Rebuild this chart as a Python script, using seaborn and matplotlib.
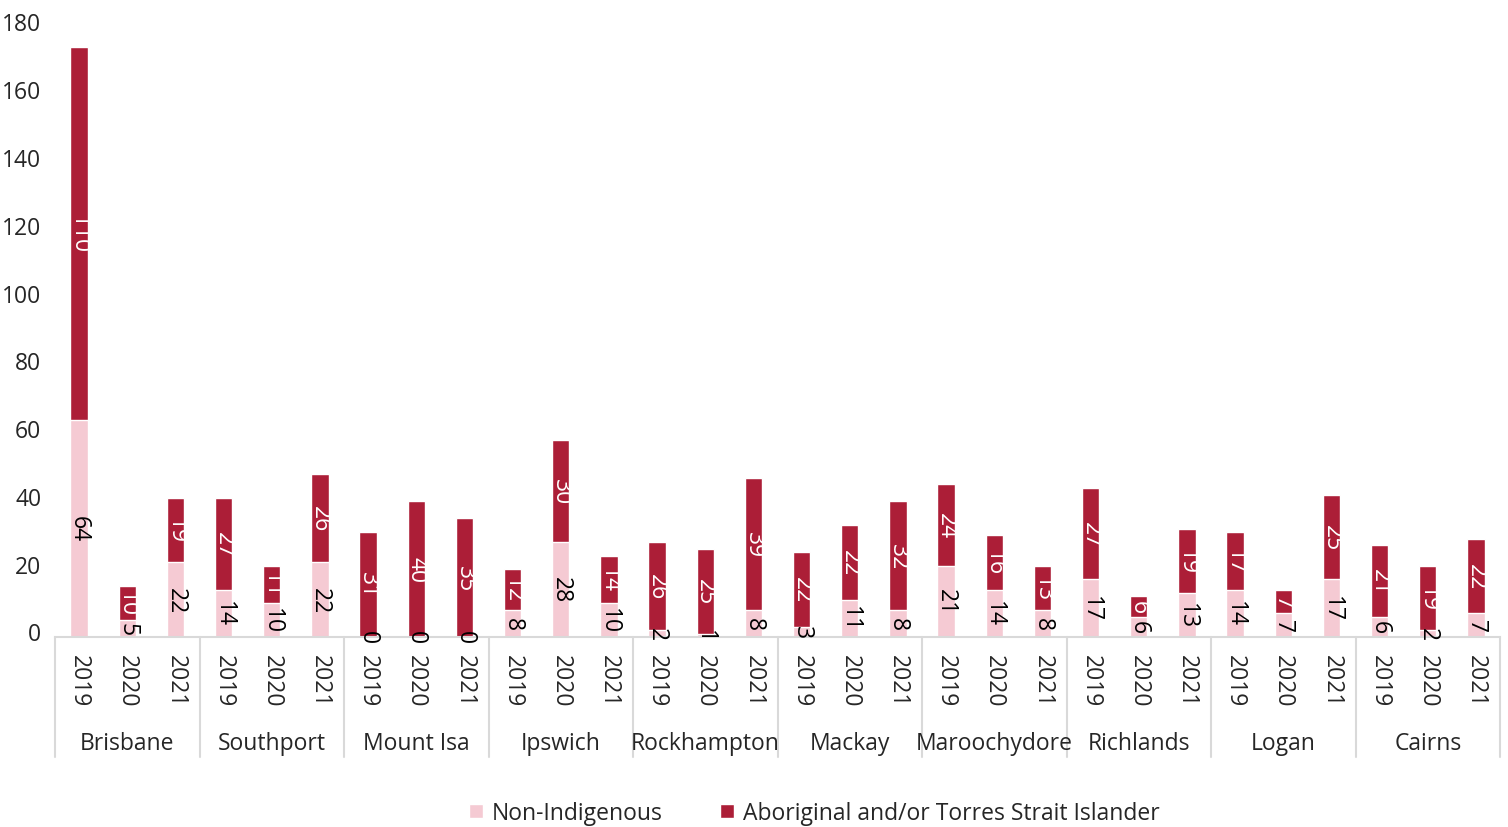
import pandas as pd
import matplotlib.pyplot as plt
import matplotlib.transforms as mtransforms
import seaborn as sns

# Data
courts = ["Brisbane", "Southport", "Mount Isa", "Ipswich", "Rockhampton",
          "Mackay", "Maroochydore", "Richlands", "Logan", "Cairns"]
years = ["2019", "2020", "2021"]
non_indigenous = [64, 5, 22, 14, 10, 22, 0, 0, 0, 8, 28, 10, 2, 1, 8,
                  3, 11, 8, 21, 14, 8, 17, 6, 13, 14, 7, 17, 6, 2, 7]
aboriginal = [110, 10, 19, 27, 11, 26, 31, 40, 35, 12, 30, 14, 26, 25, 39,
              22, 22, 32, 24, 16, 13, 27, 6, 19, 17, 7, 25, 21, 19, 22]
y_ticks = [0, 20, 40, 60, 80, 100, 120, 140, 160, 180]

PINK = "#F5CAD3"
RED = "#AC1E37"
GRID = "#D9D9D9"

df = pd.DataFrame({
    "court": [c for c in courts for _ in years],
    "year": years * len(courts),
    "ni": non_indigenous,
    "ab": aboriginal,
})
df["key"] = df["court"] + " " + df["year"]
df["total"] = df["ni"] + df["ab"]

sns.set_style("white")
plt.rcParams["font.family"] = ["Open Sans", "DejaVu Sans"]

fig = plt.figure(figsize=(15.08, 8.28), dpi=100)
ax = fig.add_axes([0.0365, 0.2295, 0.9582, 0.7367])

# stacked bars: total (red) with non-indigenous (pink) drawn over it
sns.barplot(data=df, x="key", y="total", color=RED, saturation=1,
            width=0.36, ax=ax, label="Aboriginal and/or Torres Strait Islander")
sns.barplot(data=df, x="key", y="ni", color=PINK, saturation=1,
            width=0.36, ax=ax, label="Non-Indigenous")
if ax.get_legend() is not None:
    ax.get_legend().remove()

ax.set_ylim(0, 180)
ax.set_xlim(-0.5, len(df) - 0.5)
ax.set_yticks(y_ticks)
ax.tick_params(axis="y", length=0, pad=10, labelsize=16.5)
# Excel-style labels sit a few pixels above their gridline value
shift = mtransforms.ScaledTranslation(0, 4 / 72, fig.dpi_scale_trans)
for lbl in ax.get_yticklabels():
    lbl.set_transform(lbl.get_transform() + shift)
ax.set_xticks([])
ax.set_xlabel("")
ax.set_ylabel("")
for s in ["left", "right", "top"]:
    ax.spines[s].set_visible(False)
ax.spines["bottom"].set_color(GRID)
ax.spines["bottom"].set_linewidth(1.5)

# value labels inside each segment
for i, row in df.iterrows():
    ax.text(i, row["ni"] / 2, str(row["ni"]), rotation=-90, ha="center",
            va="center", fontsize=16.5, color="black", clip_on=False)
    ax.text(i, row["ni"] + row["ab"] / 2, str(row["ab"]), rotation=-90,
            ha="center", va="center", fontsize=16.5, color="white")

# two-level category axis
trans = ax.get_xaxis_transform()
for i, row in df.iterrows():
    ax.annotate(row["year"], (i, 0), xycoords=trans, xytext=(0, -12.5),
                textcoords="offset points", rotation=-90, ha="center",
                va="top", fontsize=16.5)
n = len(years)
for g, court in enumerate(courts):
    ax.annotate(court, ((g + 0.5) * n - 0.5, 0), xycoords=trans,
                xytext=(0, -76.5), textcoords="offset points", ha="center",
                va="center", fontsize=16.5)
for g in range(len(courts) + 1):
    ax.plot([g * n - 0.5, g * n - 0.5], [0, -0.197], transform=trans,
            color=GRID, lw=1.5, clip_on=False)

# legend
handles, labels = ax.get_legend_handles_labels()
fig.legend(handles[::-1], labels[::-1], loc="center", ncol=2,
           bbox_to_anchor=(0.54, 0.017), frameon=False, fontsize=16.5,
           handlelength=0.6, handleheight=0.6, handletextpad=0.4,
           columnspacing=2.5)

fig.savefig("out.png", dpi=100)
